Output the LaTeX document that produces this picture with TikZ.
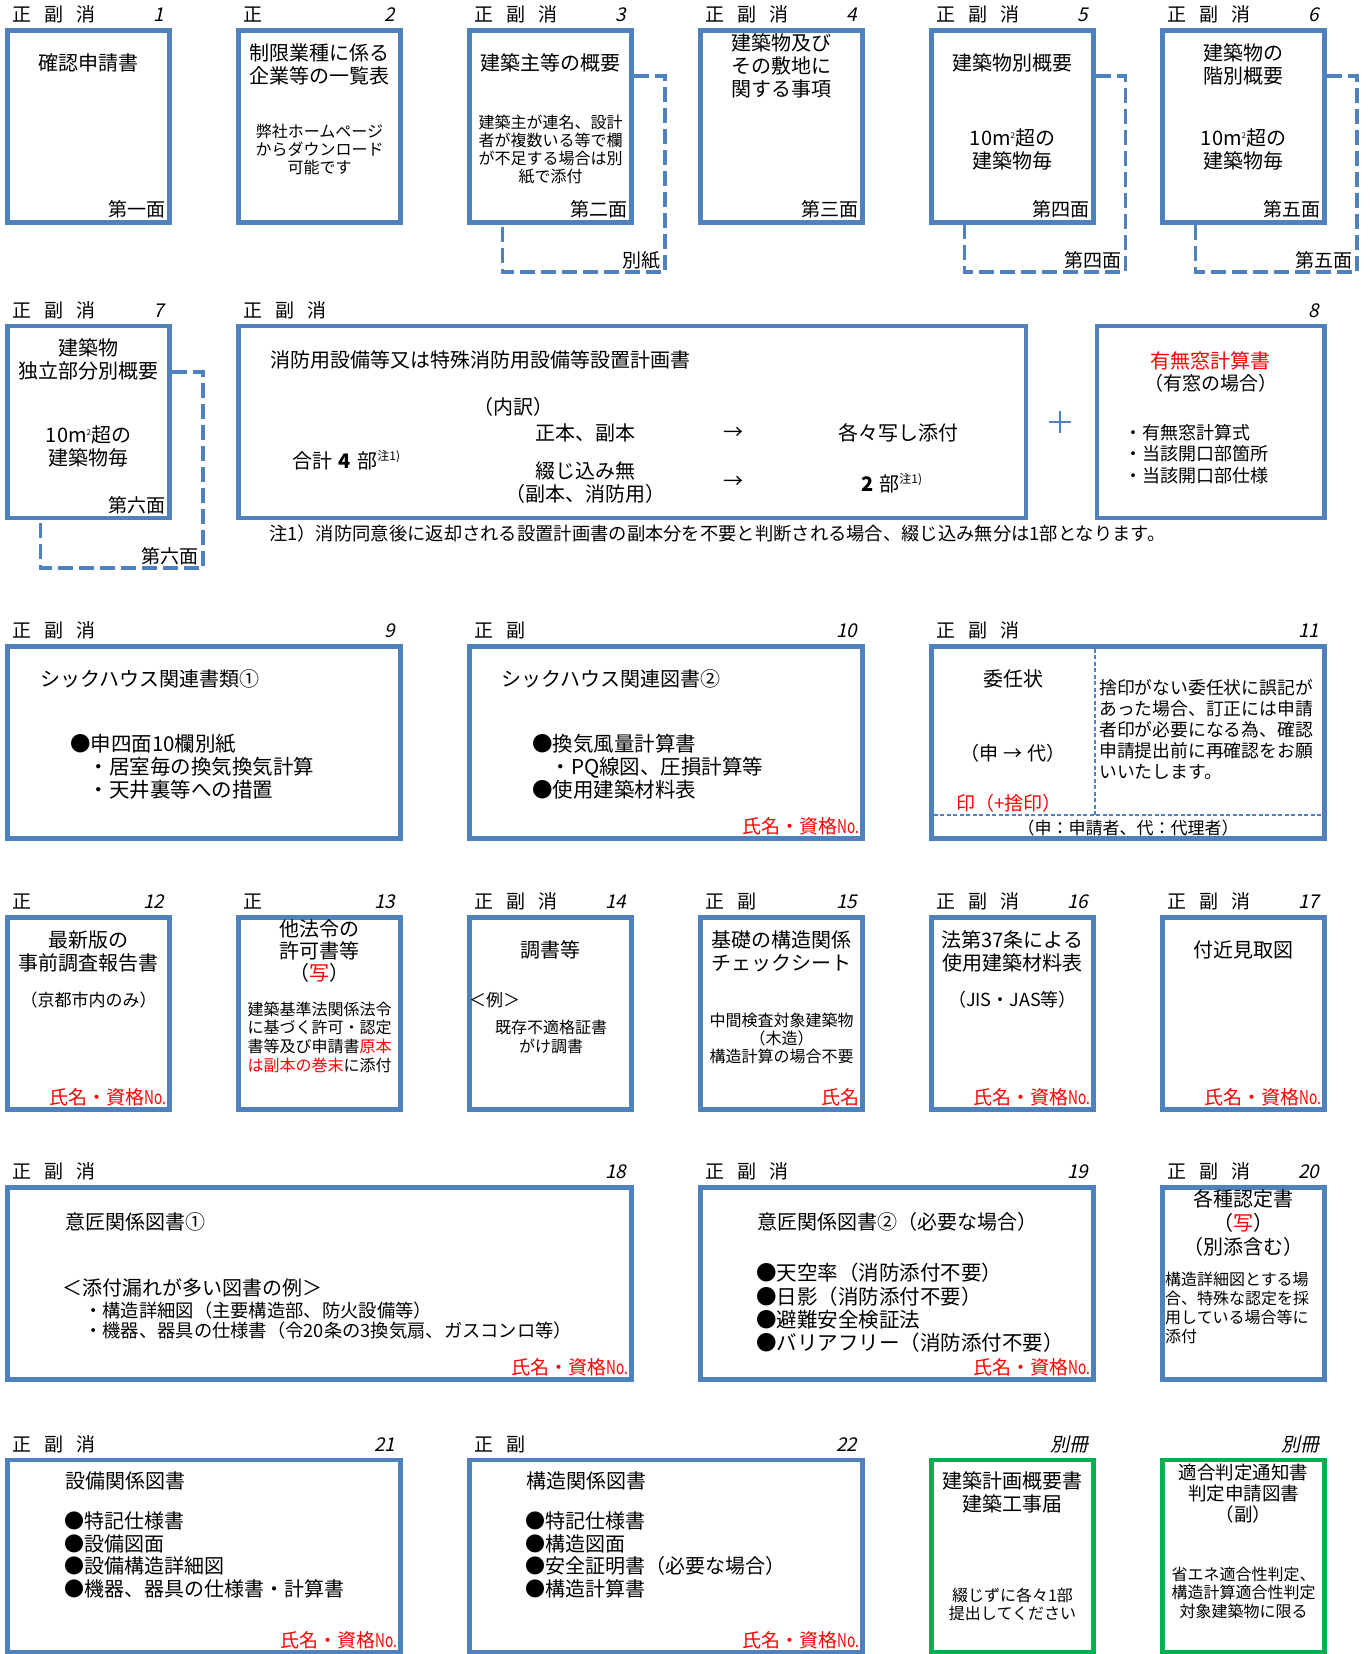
\documentclass[tikz,border=0pt]{standalone}
\usepackage{graphicx}
\usepackage{fontspec}
\setmainfont{Noto Sans CJK JP}
\newfontfamily\jpit{Noto Sans CJK JP}[FakeSlant=0.22]
\definecolor{boxblue}{RGB}{79,129,189}
\definecolor{boxgreen}{RGB}{0,176,80}
\newcommand\fsz[2]{\fontsize{#1}{#2}\selectfont}
\newcommand\sqm{m\raisebox{7.5pt}{\fsz{8}{8}2}}
\newcommand\chu{\raisebox{8pt}{\fsz{12}{12}注1)}}
\newcommand\shikaku{氏名・資格\scalebox{0.72}[1]{No.}}
\begin{document}
\begin{tikzpicture}[x=1pt,y=-1pt,
  box/.style={draw=boxblue,line width=4.5pt,minimum height=192pt,inner sep=0pt,outer sep=0pt},
  gbox/.style={draw=boxgreen,line width=4.5pt,minimum height=192pt,inner sep=0pt,outer sep=0pt},
  back/.style={draw=boxblue,line width=3.5pt,dash pattern=on 15pt off 6pt},
  divl/.style={draw=boxblue,line width=1.5pt,dash pattern=on 4pt off 2.5pt},
  plusl/.style={draw=boxblue,line width=2.2pt},
  lab/.style={anchor=base west,inner sep=0pt,font=\fsz{19}{22}},
  num/.style={anchor=base east,inner sep=0pt,font=\jpit\fsz{19}{22}},
  face/.style={anchor=base east,inner sep=0pt,font=\fsz{19}{22}},
  sig/.style={anchor=base east,inner sep=0pt,font=\fsz{19}{22},text=red},
  ttl/.style={align=center,inner sep=0pt,font=\fsz{20}{23}},
  sm/.style={align=center,inner sep=0pt,font=\fsz{16}{18.3}},
  note/.style={anchor=base west,inner sep=0pt,font=\fsz{18.3}{21}}
]
\useasboundingbox (0,0) rectangle (1370,1654);

% ---------- row 1 ----------
\node[box,minimum width=162pt] (b1) at (88.5,126.5) {};
\node[box,minimum width=162pt] (b2) at (319.5,126.5) {};
\node[box,minimum width=162pt] (b3) at (550.5,126.5) {};
\node[box,minimum width=162pt] (b4) at (781.5,126.5) {};
\node[box,minimum width=162pt] (b5) at (1012.5,126.5) {};
\node[box,minimum width=162pt] (b6) at (1243.5,126.5) {};

\node[lab] (b1l) at ([shift={(5pt,9pt)}]b1.north west) {正\hspace{13pt}副\hspace{13pt}消};
\node[num] (b1n) at ([shift={(-5pt,9pt)}]b1.north east) {1};
\node[lab] (b2l) at ([shift={(5pt,9pt)}]b2.north west) {正};
\node[num] (b2n) at ([shift={(-5pt,9pt)}]b2.north east) {2};
\node[lab] (b3l) at ([shift={(5pt,9pt)}]b3.north west) {正\hspace{13pt}副\hspace{13pt}消};
\node[num] (b3n) at ([shift={(-5pt,9pt)}]b3.north east) {3};
\node[lab] (b4l) at ([shift={(5pt,9pt)}]b4.north west) {正\hspace{13pt}副\hspace{13pt}消};
\node[num] (b4n) at ([shift={(-5pt,9pt)}]b4.north east) {4};
\node[lab] (b5l) at ([shift={(5pt,9pt)}]b5.north west) {正\hspace{13pt}副\hspace{13pt}消};
\node[num] (b5n) at ([shift={(-5pt,9pt)}]b5.north east) {5};
\node[lab] (b6l) at ([shift={(5pt,9pt)}]b6.north west) {正\hspace{13pt}副\hspace{13pt}消};
\node[num] (b6n) at ([shift={(-5pt,9pt)}]b6.north east) {6};

\node[ttl] (t1) at (88.5,63) {確認申請書};
\node[ttl] (t2) at (319.5,64.5) {制限業種に係る\\企業等の一覧表};
\node[sm,font=\fsz{16}{18}] (s2) at (319.5,149) {弊社ホームページ\\からダウンロード\\可能です};
\node[ttl] (t3) at (550.5,63) {建築主等の概要};
\node[sm] (s3) at (550.5,149.5) {建築主が連名、設計\\者が複数いる等で欄\\が不足する場合は別\\紙で添付};
\node[ttl,font=\fsz{20}{23}] (t4) at (781.5,65.5) {建築物及び\\その敷地に\\関する事項};
\node[ttl] (t5) at (1012.5,63) {建築物別概要};
\node[ttl] (u5) at (1012.5,149.5) {10\sqm 超の\\建築物毎};
\node[ttl] (t6) at (1243.5,64.5) {建築物の\\階別概要};
\node[ttl] (u6) at (1243.5,149.5) {10\sqm 超の\\建築物毎};

\node[face] (f1) at ([shift={(-4pt,6pt)}]b1.south east) {第一面};
\node[face] (f3) at ([shift={(-4pt,6pt)}]b3.south east) {第二面};
\node[face] (f4) at ([shift={(-4pt,6pt)}]b4.south east) {第三面};
\node[face] (f5) at ([shift={(-4pt,6pt)}]b5.south east) {第四面};
\node[face] (f6) at ([shift={(-4pt,6pt)}]b6.south east) {第五面};

\draw[back] (633.75,76) -- (665,76) -- (665,272) -- (502.5,272) -- (502.5,224.75);
\node[face] (d3) at (661,267) {別紙};
\draw[back] (1095.75,76) -- (1125.5,76) -- (1125.5,272) -- (964.5,272) -- (964.5,224.75);
\node[face] (d5) at (1121.5,267) {第四面};
\draw[back] (1326.75,76) -- (1357,76) -- (1357,272) -- (1195.5,272) -- (1195.5,224.75);
\node[face] (d6) at (1353,267) {第五面};

% ---------- row 2 ----------
\node[box,minimum width=162pt] (b7) at (88.5,422) {};
\node[box,minimum width=787.5pt] (bf) at (632.25,422) {};
\node[box,minimum width=227.5pt] (b8) at (1210.75,422) {};

\node[lab] (b7l) at ([shift={(5pt,9pt)}]b7.north west) {正\hspace{13pt}副\hspace{13pt}消};
\node[num] (b7n) at ([shift={(-5pt,9pt)}]b7.north east) {7};
\node[lab] (bfl) at ([shift={(5pt,9pt)}]bf.north west) {正\hspace{13pt}副\hspace{13pt}消};
\node[num] (b8n) at ([shift={(-5pt,9pt)}]b8.north east) {8};

\node[ttl] (t7) at (88.5,359.5) {建築物\\独立部分別概要};
\node[ttl] (u7) at (88.5,446.5) {10\sqm 超の\\建築物毎};
\node[face] (f7) at ([shift={(-4pt,6pt)}]b7.south east) {第六面};
\draw[back] (171.75,372) -- (203,372) -- (203,568) -- (40.5,568) -- (40.5,520.25);
\node[face] (d7) at (199,563) {第六面};

\node[ttl,anchor=west] (tf) at (270,360) {消防用設備等又は特殊消防用設備等設置計画書};
\node[ttl] (fa) at (513.5,407) {（内訳）};
\node[ttl] (fb) at (585,433) {正本、副本};
\node[ttl] (fc) at (733,433) {→};
\node[ttl] (fd) at (898,433) {各々写し添付};
\node[ttl,anchor=base west] (fe) at (292,468.5) {合計\hspace{6pt}{\bfseries 4}\hspace{7pt}部\chu};
\node[ttl] (ff) at (585,482.5) {綴じ込み無\\（副本、消防用）};
\node[ttl] (fg) at (733,482) {→};
\node[ttl,anchor=base west] (fh) at (861,491.5) {{\bfseries 2}\hspace{6pt}部\chu};

\draw[plusl] (1049,422) -- (1071,422);
\draw[plusl] (1060,411) -- (1060,433);

\node[ttl,text=red] (t8) at (1210.75,361) {有無窓計算書};
\node[ttl,font=\fsz{19}{22}] (u8) at (1210.75,383) {（有窓の場合）};
\node[ttl,font=\fsz{18}{21.5},anchor=west,align=left] (s8) at (1124,454) {・有無窓計算式\\・当該開口部箇所\\・当該開口部仕様};

\node[note] (nt) at (269,540) {注1）消防同意後に返却される設置計画書の副本分を不要と判断される場合、綴じ込み無分は1部となります。};

% ---------- row 3 ----------
\node[box,minimum width=393pt] (b9) at (204,742.5) {};
\node[box,minimum width=393pt] (b10) at (666,742.5) {};
\node[box,minimum width=393pt] (b11) at (1128,742.5) {};

\node[lab] (b9l) at ([shift={(5pt,9pt)}]b9.north west) {正\hspace{13pt}副\hspace{13pt}消};
\node[num] (b9n) at ([shift={(-5pt,9pt)}]b9.north east) {9};
\node[lab] (b10l) at ([shift={(5pt,9pt)}]b10.north west) {正\hspace{13pt}副};
\node[num] (b10n) at ([shift={(-5pt,9pt)}]b10.north east) {10};
\node[lab] (b11l) at ([shift={(5pt,9pt)}]b11.north west) {正\hspace{13pt}副\hspace{13pt}消};
\node[num] (b11n) at ([shift={(-5pt,9pt)}]b11.north east) {11};

\node[ttl,anchor=west] (t9) at (40,679) {シックハウス関連書類①};
\node[ttl,font=\fsz{20.5}{23},anchor=west,align=left] (s9) at (70,767) {●申四面10欄別紙\\\hspace*{0.9em}・居室毎の換気換気計算\\\hspace*{0.9em}・天井裏等への措置};

\node[ttl,anchor=west] (t10) at (501,679) {シックハウス関連図書②};
\node[ttl,font=\fsz{20.5}{23},anchor=west,align=left] (s10) at (532,767) {●換気風量計算書\\\hspace*{0.9em}・PQ線図、圧損計算等\\●使用建築材料表};
\node[sig] (g10) at ([shift={(-3pt,5pt)}]b10.south east) {\shikaku};

\draw[divl] (1095,648.75) -- (1095,815);
\draw[divl] (933.75,815) -- (1322.25,815);
\node[ttl] (t11) at (1013,679) {委任状};
\node[ttl,font=\fsz{19}{22}] (u11) at (1013,753) {（申\hspace{5pt}→\hspace{5pt}代）};
\node[ttl,font=\fsz{19}{22},text=red] (r11) at (1009,803) {印（+捨印）};
\node[ttl,font=\fsz{17.8}{20.8},anchor=west,align=left] (s11) at (1099,729.5) {捨印がない委任状に誤記が\\あった場合、訂正には申請\\者印が必要になる為、確認\\申請提出前に再確認をお願\\いいたします。};
\node[ttl,font=\fsz{17}{20}] (w11) at (1128,828) {（申：申請者、代：代理者）};

% ---------- row 4 ----------
\node[box,minimum width=162pt] (b12) at (88.5,1013.5) {};
\node[box,minimum width=162pt] (b13) at (319.5,1013.5) {};
\node[box,minimum width=162pt] (b14) at (550.5,1013.5) {};
\node[box,minimum width=162pt] (b15) at (781.5,1013.5) {};
\node[box,minimum width=162pt] (b16) at (1012.5,1013.5) {};
\node[box,minimum width=162pt] (b17) at (1243.5,1013.5) {};

\node[lab] (b12l) at ([shift={(5pt,9pt)}]b12.north west) {正};
\node[num] (b12n) at ([shift={(-5pt,9pt)}]b12.north east) {12};
\node[lab] (b13l) at ([shift={(5pt,9pt)}]b13.north west) {正};
\node[num] (b13n) at ([shift={(-5pt,9pt)}]b13.north east) {13};
\node[lab] (b14l) at ([shift={(5pt,9pt)}]b14.north west) {正\hspace{13pt}副\hspace{13pt}消};
\node[num] (b14n) at ([shift={(-5pt,9pt)}]b14.north east) {14};
\node[lab] (b15l) at ([shift={(5pt,9pt)}]b15.north west) {正\hspace{13pt}副};
\node[num] (b15n) at ([shift={(-5pt,9pt)}]b15.north east) {15};
\node[lab] (b16l) at ([shift={(5pt,9pt)}]b16.north west) {正\hspace{13pt}副\hspace{13pt}消};
\node[num] (b16n) at ([shift={(-5pt,9pt)}]b16.north east) {16};
\node[lab] (b17l) at ([shift={(5pt,9pt)}]b17.north west) {正\hspace{13pt}副\hspace{13pt}消};
\node[num] (b17n) at ([shift={(-5pt,9pt)}]b17.north east) {17};

\node[ttl] (t12) at (88.5,951) {最新版の\\事前調査報告書};
\node[ttl,font=\fsz{17}{20}] (u12) at (88.5,1000) {（京都市内のみ）};
\node[sig] (g12) at ([shift={(-3pt,5pt)}]b12.south east) {\shikaku};

\node[ttl,font=\fsz{20}{22}] (t13) at (319.5,951) {他法令の\\許可書等\\（\textcolor{red}{写}）};
\node[sm,font=\fsz{16}{18.7}] (s13) at (319.5,1037) {建築基準法関係法令\\に基づく許可・認定\\書等及び申請書\textcolor{red}{原本}\\\textcolor{red}{は副本の巻末}に添付};

\node[ttl] (t14) at (550.5,950) {調書等};
\node[ttl,font=\fsz{17}{20},anchor=west] (e14) at (469,1000) {＜例＞};
\node[sm] (s14) at (551,1037) {既存不適格証書\\がけ調書};

\node[ttl] (t15) at (781.5,951) {基礎の構造関係\\チェックシート};
\node[sm,font=\fsz{16}{18}] (s15) at (781.5,1038) {中間検査対象建築物\\（木造）\\構造計算の場合不要};
\node[sig] (g15) at ([shift={(-3pt,5pt)}]b15.south east) {氏名};

\node[ttl] (t16) at (1012.5,951) {法第37条による\\使用建築材料表};
\node[ttl,font=\fsz{18}{21}] (u16) at (1012.5,1000) {（JIS・JAS等）};
\node[sig] (g16) at ([shift={(-3pt,5pt)}]b16.south east) {\shikaku};

\node[ttl] (t17) at (1243.5,950) {付近見取図};
\node[sig] (g17) at ([shift={(-3pt,5pt)}]b17.south east) {\shikaku};

% ---------- row 5 ----------
\node[box,minimum width=624pt] (b18) at (319.5,1283.5) {};
\node[box,minimum width=393pt] (b19) at (897,1283.5) {};
\node[box,minimum width=162pt] (b20) at (1243.5,1283.5) {};

\node[lab] (b18l) at ([shift={(5pt,9pt)}]b18.north west) {正\hspace{13pt}副\hspace{13pt}消};
\node[num] (b18n) at ([shift={(-5pt,9pt)}]b18.north east) {18};
\node[lab] (b19l) at ([shift={(5pt,9pt)}]b19.north west) {正\hspace{13pt}副\hspace{13pt}消};
\node[num] (b19n) at ([shift={(-5pt,9pt)}]b19.north east) {19};
\node[lab] (b20l) at ([shift={(5pt,9pt)}]b20.north west) {正\hspace{13pt}副\hspace{13pt}消};
\node[num] (b20n) at ([shift={(-5pt,9pt)}]b20.north east) {20};

\node[ttl,anchor=west] (t18) at (65,1222) {意匠関係図書①};
\node[ttl,anchor=west] (e18) at (62,1288) {＜添付漏れが多い図書の例＞};
\node[ttl,font=\fsz{18.3}{19.5},anchor=west,align=left] (s18) at (84,1320.5) {・構造詳細図（主要構造部、防火設備等）\\・機器、器具の仕様書（令20条の3換気扇、ガスコンロ等）};
\node[sig] (g18) at ([shift={(-3pt,5pt)}]b18.south east) {\shikaku};

\node[ttl,anchor=west] (t19) at (757,1222) {意匠関係図書②（必要な場合）};
\node[ttl,font=\fsz{20.5}{23.3},anchor=west,align=left] (s19) at (756,1308) {●天空率（消防添付不要）\\●日影（消防添付不要）\\●避難安全検証法\\●バリアフリー（消防添付不要）};
\node[sig] (g19) at ([shift={(-3pt,5pt)}]b19.south east) {\shikaku};

\node[ttl,font=\fsz{20}{24}] (t20) at (1243.5,1223) {各種認定書\\（\textcolor{red}{写}）\\（別添含む）};
\node[sm,font=\fsz{16}{19},anchor=west,align=left] (s20) at (1165,1307.5) {構造詳細図とする場\\合、特殊な認定を採\\用している場合等に\\添付};

% ---------- row 6 ----------
\node[box,minimum width=393pt] (b21) at (204,1556) {};
\node[box,minimum width=393pt] (b22) at (666,1556) {};
\node[gbox,minimum width=162pt] (g1) at (1012.5,1556) {};
\node[gbox,minimum width=162pt] (g2) at (1243.5,1556) {};

\node[lab] (b21l) at ([shift={(5pt,9pt)}]b21.north west) {正\hspace{13pt}副\hspace{13pt}消};
\node[num] (b21n) at ([shift={(-5pt,9pt)}]b21.north east) {21};
\node[lab] (b22l) at ([shift={(5pt,9pt)}]b22.north west) {正\hspace{13pt}副};
\node[num] (b22n) at ([shift={(-5pt,9pt)}]b22.north east) {22};
\node[num] (g1n) at ([shift={(-5pt,9pt)}]g1.north east) {別冊};
\node[num] (g2n) at ([shift={(-5pt,9pt)}]g2.north east) {別冊};

\node[ttl,anchor=west] (t21) at (65,1481) {設備関係図書};
\node[ttl,font=\fsz{20}{22.7},anchor=west,align=left] (s21) at (64,1555) {●特記仕様書\\●設備図面\\●設備構造詳細図\\●機器、器具の仕様書・計算書};
\node[sig] (g21) at ([shift={(-3pt,5pt)}]b21.south east) {\shikaku};

\node[ttl,anchor=west] (t22) at (526,1481) {構造関係図書};
\node[ttl,font=\fsz{20}{22.7},anchor=west,align=left] (s22) at (525,1555) {●特記仕様書\\●構造図面\\●安全証明書（必要な場合）\\●構造計算書};
\node[sig] (g22) at ([shift={(-3pt,5pt)}]b22.south east) {\shikaku};

\node[ttl] (tg1) at (1012.5,1492.5) {建築計画概要書\\建築工事届};
\node[sm,font=\fsz{16}{18}] (sg1) at (1012.5,1604) {綴じずに各々1部\\提出してください};
\node[ttl,font=\fsz{18.5}{21}] (tg2) at (1243.5,1494) {適合判定通知書\\判定申請図書\\（副）};
\node[sm,font=\fsz{16}{18.5}] (sg2) at (1243.5,1592.5) {省エネ適合性判定、\\構造計算適合性判定\\対象建築物に限る};
\end{tikzpicture}
\end{document}
